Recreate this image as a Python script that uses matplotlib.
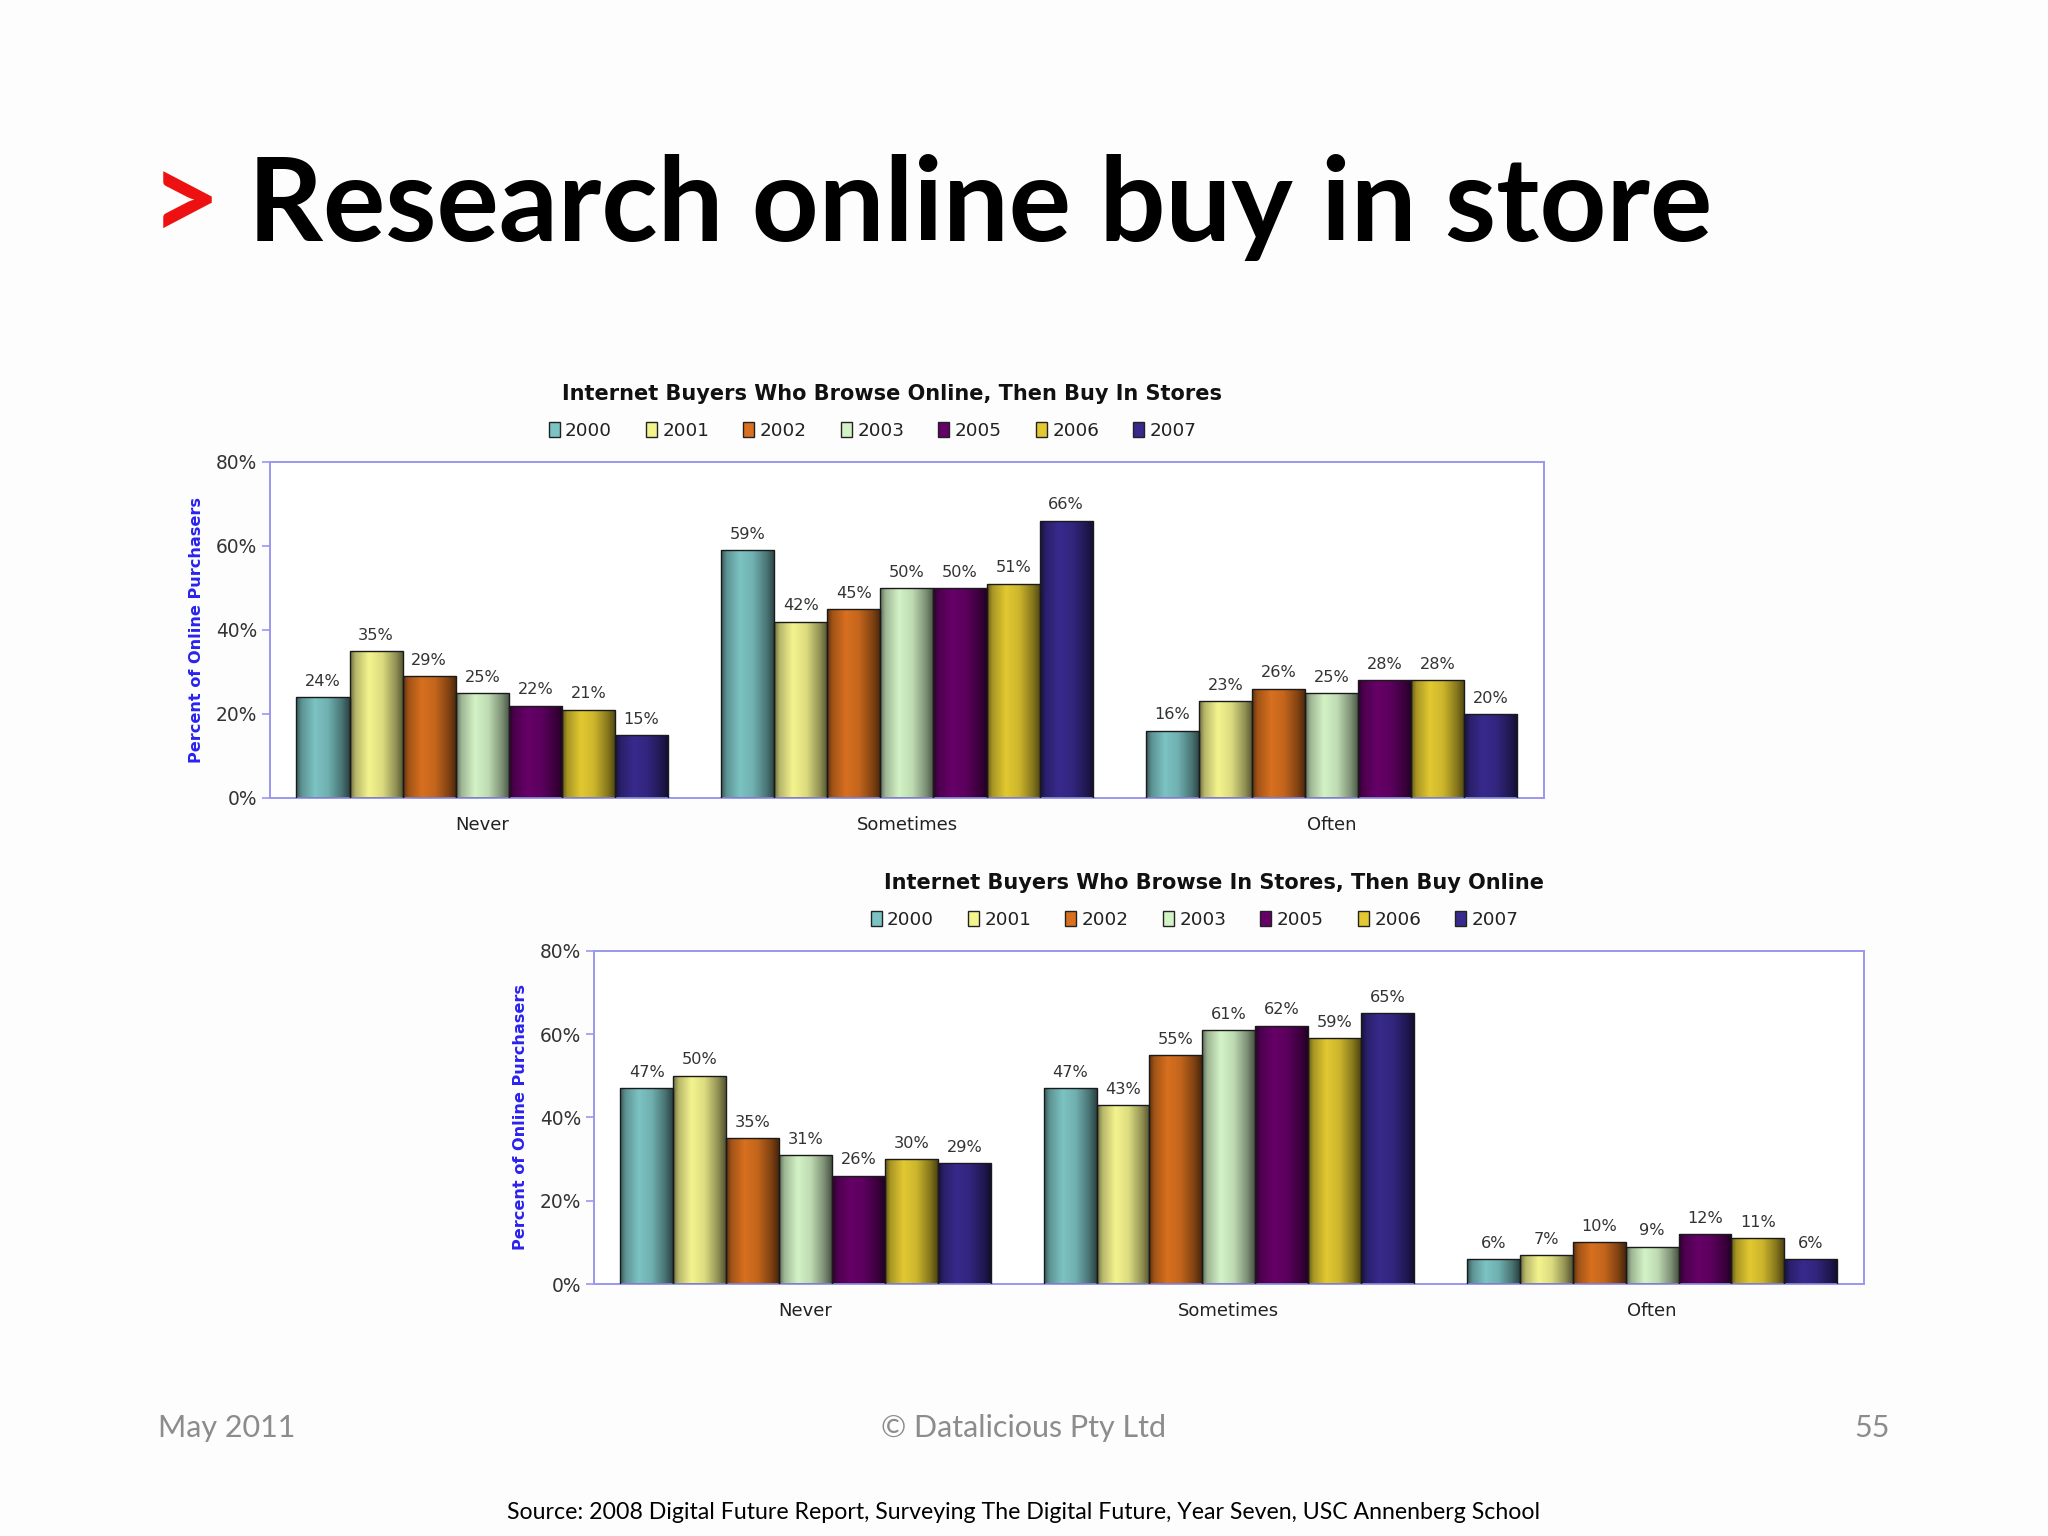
import matplotlib
matplotlib.use("Agg")
import matplotlib.pyplot as plt
import matplotlib.colors as mcolors
from matplotlib.patches import Patch
import numpy as np

# data
categories = ["Never", "Sometimes", "Often"]
years = ["2000", "2001", "2002", "2003", "2005", "2006", "2007"]
year_colors = ["#7cc3c3", "#f4f48e", "#d8701f", "#d3f3c6", "#660068", "#e2c931", "#372a8c"]

# Internet Buyers Who Browse Online, Then Buy In Stores
online_then_store = {
    "2000": [24, 59, 16],
    "2001": [35, 42, 23],
    "2002": [29, 45, 26],
    "2003": [25, 50, 25],
    "2005": [22, 50, 28],
    "2006": [21, 51, 28],
    "2007": [15, 66, 20],
}
# Internet Buyers Who Browse In Stores, Then Buy Online
store_then_online = {
    "2000": [47, 47, 6],
    "2001": [50, 43, 7],
    "2002": [35, 55, 10],
    "2003": [31, 61, 9],
    "2005": [26, 62, 12],
    "2006": [30, 59, 11],
    "2007": [29, 65, 6],
}
yticks = [0, 20, 40, 60, 80]

axis_col = "#9a98ee"
label_blue = "#2a22ee"


def shade_bars(ax, bars, color):
    # fake the cylinder look: dark edges, light band left of centre
    rgb = np.array(mcolors.to_rgb(color))
    prof = np.interp(np.linspace(0, 1, 80), [0, 0.1, 0.35, 0.6, 0.85, 1], [0.45, 0.75, 1.0, 0.9, 0.6, 0.35])
    img = np.clip(rgb[None, :] * prof[:, None], 0, 1)[None, :, :]
    for b in bars:
        x, y = b.get_x(), b.get_y()
        w, h = b.get_width(), b.get_height()
        im = ax.imshow(img, extent=[x, x + w, y, y + h], aspect="auto", zorder=2, interpolation="bilinear")
        im.set_clip_path(b)
        b.set_facecolor("none")


def draw_chart(ax, data, title):
    x = np.arange(len(categories))
    w = 0.125
    for i, yr in enumerate(years):
        vals = data[yr]
        bars = ax.bar(x + (i - 3) * w, vals, w, color=year_colors[i], edgecolor="#1a1a1a", linewidth=0.5, zorder=3)
        shade_bars(ax, bars, year_colors[i])
        for b, v in zip(bars, vals):
            ax.text(b.get_x() + b.get_width() / 2, v + 2, "%d%%" % v, ha="center", va="bottom",
                    fontsize=5.8, color="#333333")
    ax.set_xlim(-0.5, 2.5)
    ax.set_ylim(0, 80)
    ax.set_yticks(yticks)
    ax.set_yticklabels(["%d%%" % t for t in yticks])
    ax.set_xticks(x)
    ax.set_xticklabels(categories)
    ax.tick_params(axis="x", length=0, pad=6.5, labelsize=6.5, labelcolor="#222222")
    ax.tick_params(axis="y", length=3, width=0.6, color=axis_col, pad=1.5, labelsize=6.7, labelcolor="#333333")
    for s in ax.spines.values():
        s.set_color(axis_col)
        s.set_linewidth(0.7)
    ax.set_ylabel("Percent of Online Purchasers", fontsize=5.8, fontweight="bold", color=label_blue)
    ax.yaxis.set_label_coords(-0.052, 0.5)
    ax.set_title(title, fontsize=7.5, fontweight="bold", color="#111111", x=0.488, y=1.135)
    handles = [Patch(facecolor=c, edgecolor="#222222", linewidth=0.5) for c in year_colors]
    ax.legend(handles, years, loc="center", bbox_to_anchor=(0.473, 1.092), ncol=7, frameon=False,
              fontsize=6.6, handlelength=0.6, handleheight=0.9, handletextpad=0.3, columnspacing=1.85,
              labelcolor="#222222")


fig = plt.figure(figsize=(10.24, 7.68), dpi=200)
fig.patch.set_facecolor("#fefdfe")

# slide title
fig.text(0.073, 0.843, ">", fontsize=44, fontweight="bold", color="#ee1111", family="Lato", va="baseline")
fig.text(0.121, 0.843, "Research online buy in store", fontsize=42, fontweight="bold", color="black",
         family="Lato", va="baseline")

ax1 = fig.add_axes([0.1318, 0.4805, 0.6221, 0.2188])
draw_chart(ax1, online_then_store, "Internet Buyers Who Browse Online, Then Buy In Stores")

ax2 = fig.add_axes([0.290, 0.164, 0.620, 0.217])
draw_chart(ax2, store_then_online, "Internet Buyers Who Browse In Stores, Then Buy Online")

# footer
fig.text(0.077, 0.070, "May 2011", fontsize=11, color="#8c8c8c", family="Lato", va="center")
fig.text(0.50, 0.070, "\u00a9 Datalicious Pty Ltd", fontsize=11, color="#8c8c8c", family="Lato",
         va="center", ha="center")
fig.text(0.923, 0.070, "55", fontsize=11, color="#8c8c8c", family="Lato", va="center", ha="right")
fig.text(0.50, 0.015, "Source: 2008 Digital Future Report, Surveying The Digital Future, Year Seven, USC Annenberg School",
         fontsize=8.35, color="black", family="Lato", va="center", ha="center")

fig.savefig("out.png", dpi=200, facecolor=fig.get_facecolor())
